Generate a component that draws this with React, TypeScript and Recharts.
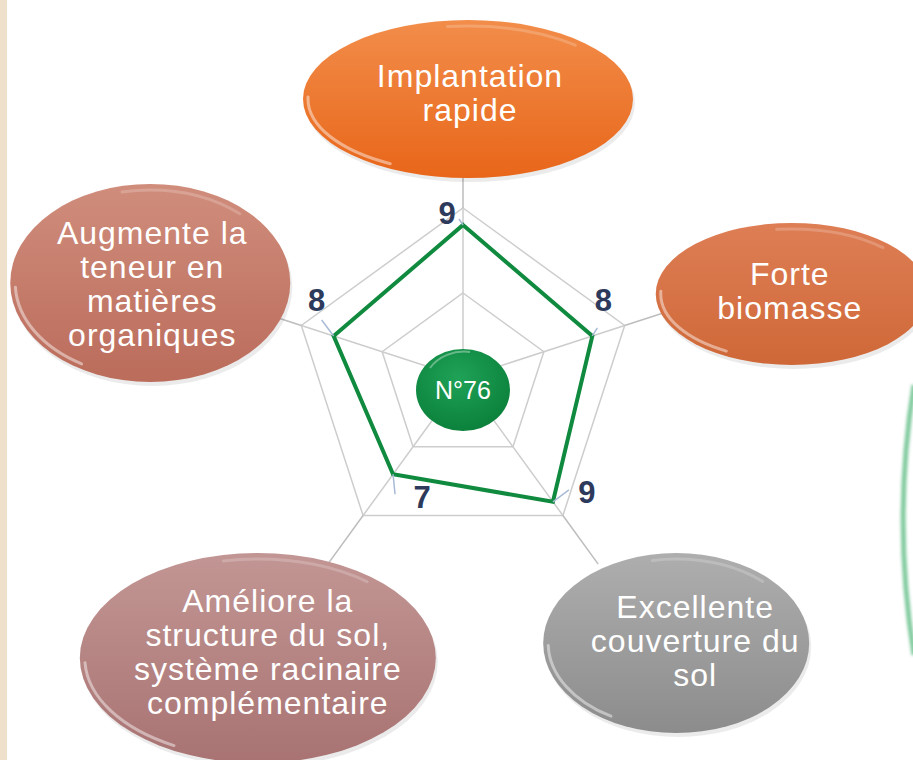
import { LabelList, PolarAngleAxis, PolarGrid, PolarRadiusAxis, Radar, RadarChart } from "recharts";

const criteria = [
  "Implantation\nrapide",
  "Forte\nbiomasse",
  "Excellente\ncouverture du\nsol",
  "Améliore la\nstructure du sol,\nsystème racinaire\ncomplémentaire",
  "Augmente la\nteneur en\nmatières\norganiques",
];
const scores = [9, 8, 9, 7, 8];
const varietyName = "N°76";

const data = criteria.map((c, i) => ({ name: c, value: scores[i] }));

// bubble look per criterion: offset from the tick end, radii, colours
const BUBBLES = [
  { dx: 5, dy: -49, rx: 165, ry: 79, tx: 2, ty: -6, top: "#F28D4A", bottom: "#E8661A" },
  { dx: 110, dy: -13, rx: 136, ry: 71, tx: -2, ty: -3, top: "#DE7E55", bottom: "#CF6838" },
  { dx: 78, dy: 79, rx: 133, ry: 90, tx: 19, ty: -2, top: "#AEAEAE", bottom: "#8C8C8C" },
  { dx: -70, dy: 94, rx: 178, ry: 105, tx: 10, ty: -6, top: "#C29694", bottom: "#A87372" },
  { dx: -94, dy: -24, rx: 140, ry: 99, tx: 2, ty: 1, top: "#D08D7C", bottom: "#BB6C5B" },
];

const VALUE_OFFSETS = [
  { dx: -16, dy: -12, lx: -4, ly: -6 },
  { dx: 11, dy: -36, lx: 5, ly: -8 },
  { dx: 34, dy: -10, lx: 16, ly: -12 },
  { dx: 29, dy: 23, lx: 2, ly: 20 },
  { dx: -17, dy: -36, lx: -12, ly: -16 },
];

const FONT = "'Liberation Sans', Arial, sans-serif";

// @ts-ignore
const BubbleTick = ({ x, y, payload, index }) => {
  const b = BUBBLES[index];
  const cx = x + b.dx;
  const cy = y + b.dy;
  const lines = String(payload.value).split("\n");
  const lh = 34;
  const per = 2 * Math.PI * Math.sqrt((b.rx * b.rx + b.ry * b.ry) / 2);
  return (
    <g>
      <ellipse cx={cx + 2} cy={cy + 4} rx={b.rx} ry={b.ry} fill="#000" opacity={0.08} />
      <ellipse cx={cx} cy={cy} rx={b.rx} ry={b.ry} fill={`url(#bub${index})`} />
      <ellipse
        cx={cx}
        cy={cy}
        rx={b.rx - 5}
        ry={b.ry - 5}
        fill="none"
        stroke="#fff"
        strokeOpacity={0.45}
        strokeWidth={3}
        strokeLinecap="round"
        strokeDasharray={`${per * 0.14} ${per}`}
        strokeDashoffset={-per * 0.33}
      />
      <ellipse
        cx={cx}
        cy={cy}
        rx={b.rx - 6}
        ry={b.ry - 6}
        fill="none"
        stroke="#fff"
        strokeOpacity={0.2}
        strokeWidth={3}
        strokeLinecap="round"
        strokeDasharray={`${per * 0.16} ${per}`}
        strokeDashoffset={-per * 0.67}
      />
      <text textAnchor="middle" fill="#fff" fontFamily={FONT} fontSize={32} letterSpacing={1}>
        {lines.map((l, i) => (
          <tspan key={i} x={cx + b.tx} y={cy + b.ty + (i - (lines.length - 1) / 2) * lh + 11}>
            {l}
          </tspan>
        ))}
      </text>
    </g>
  );
};

// @ts-ignore
const ValueLabel = ({ x, y, value, index }) => {
  const o = VALUE_OFFSETS[index];
  return (
    <g>
      <line x1={x} y1={y} x2={x + o.lx} y2={y + o.ly} stroke="#A9BAD6" strokeWidth={1.5} />
      <text
        x={x + o.dx}
        y={y + o.dy + 11}
        textAnchor="middle"
        fill="#2E3A5C"
        fontFamily={FONT}
        fontWeight="bold"
        fontSize={31}
      >
        {value}
      </text>
    </g>
  );
};

export default function App() {
  return (
    <div style={{ position: "absolute", left: 0, top: 0, width: 913, height: 760, background: "#fff", overflow: "hidden" }}>
      <svg width={0} height={0} style={{ position: "absolute" }}>
        <defs>
          {BUBBLES.map((b, i) => (
            <linearGradient key={i} id={`bub${i}`} x1="0" y1="0" x2="0" y2="1">
              <stop offset="0%" stopColor={b.top} />
              <stop offset="100%" stopColor={b.bottom} />
            </linearGradient>
          ))}
          <radialGradient id="seed" cx="45%" cy="35%" r="70%">
            <stop offset="0%" stopColor="#1FA257" />
            <stop offset="100%" stopColor="#0A7F3A" />
          </radialGradient>
          <filter id="soft" x="-50%" y="-10%" width="200%" height="120%">
            <feGaussianBlur stdDeviation="1.5" />
          </filter>
        </defs>
      </svg>
      <div style={{ position: "absolute", left: 0, top: 0 }}>
        <RadarChart width={913} height={760} cx={463} cy={378} outerRadius={170} data={data} margin={{ top: 0, right: 0, bottom: 0, left: 0 }}>
          <PolarGrid gridType="polygon" stroke="#CDCDCD" strokeWidth={1.5} />
          <PolarRadiusAxis domain={[0, 10]} tickCount={3} tick={false} axisLine={false} />
          <PolarAngleAxis
            dataKey="name"
            axisLine={false}
            tickSize={60}
            tickLine={{ stroke: "#BDBDBD", strokeWidth: 1.5 }}
            tick={BubbleTick}
          />
          <Radar dataKey="value" stroke="#0F8A3E" strokeWidth={4} fill="none" fillOpacity={0} isAnimationActive={false}>
            <LabelList dataKey="value" content={ValueLabel} />
          </Radar>
        </RadarChart>
      </div>
      <svg width={913} height={760} style={{ position: "absolute", left: 0, top: 0, pointerEvents: "none" }}>
        <rect x={0} y={0} width={7} height={760} fill="#EEE0CB" />
        <path d="M 914 385 A 850 850 0 0 0 914 655" fill="none" stroke="#6DC28F" strokeWidth={5} opacity={0.85} filter="url(#soft)" />
        <ellipse cx={463} cy={390} rx={47} ry={41} fill="url(#seed)" />
        <path d="M 430 368 A 40 34 0 0 1 470 352" fill="none" stroke="#fff" strokeOpacity={0.35} strokeWidth={2} />
        <text x={463} y={399} textAnchor="middle" fill="#fff" fontFamily={FONT} fontSize={25}>
          {varietyName}
        </text>
      </svg>
    </div>
  );
}
